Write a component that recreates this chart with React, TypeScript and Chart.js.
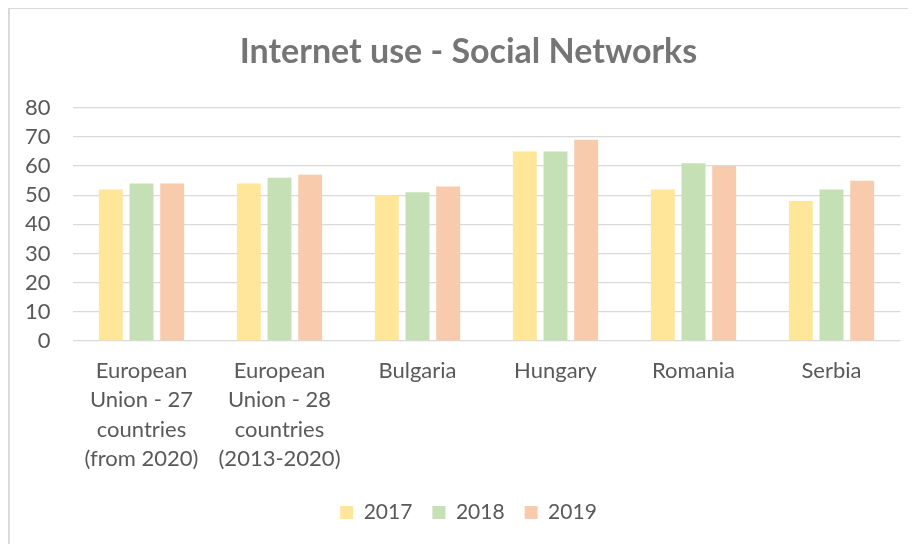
import React, { useEffect, useRef } from "react";
import { Chart, registerables } from "chart.js";

Chart.register(...registerables);

const categories: string[][] = [
  ["European", "Union - 27", "countries", "(from 2020)"],
  ["European", "Union - 28", "countries", "(2013-2020)"],
  ["Bulgaria"],
  ["Hungary"],
  ["Romania"],
  ["Serbia"],
];
const seriesNames = ["2017", "2018", "2019"];
const values2017 = [52, 54, 50, 65, 52, 48];
const values2018 = [54, 56, 51, 65, 61, 52];
const values2019 = [54, 57, 53, 69, 60, 55];
const seriesColors = ["#FFE699", "#C5E0B4", "#F8CBAD"];
const yTicks = [0, 10, 20, 30, 40, 50, 60, 70, 80];

const FONT = "Lato, 'Open Sans', sans-serif";
const TEXT = "#595959";

export default function App() {
  const ref = useRef<HTMLCanvasElement | null>(null);
  useEffect(() => {
    if (!ref.current) return;
    const data = [values2017, values2018, values2019];
    const chart = new Chart(ref.current, {
      type: "bar",
      data: {
        labels: categories,
        datasets: seriesNames.map((name, i) => ({
          label: name,
          data: data[i],
          backgroundColor: seriesColors[i],
          borderColor: "#ffffff",
          borderWidth: 0,
          categoryPercentage: 0.667,
          barPercentage: 0.78,
        })),
      },
      options: {
        animation: false,
        responsive: false,
        maintainAspectRatio: false,
        layout: { padding: { left: 0, right: 0, top: 0, bottom: 11 } },
        plugins: {
          title: {
            display: true,
            text: "Internet use - Social Networks",
            color: "#757575",
            font: { family: FONT, size: 34, weight: "bold", lineHeight: 1.2 },
            padding: { top: 22.6, bottom: 35.4 },
          },
          legend: {
            position: "bottom",
            labels: {
              color: TEXT,
              font: { family: FONT, size: 21 },
              boxWidth: 13,
              boxHeight: 13,
              padding: 20,
            },
          },
          tooltip: { enabled: false },
        },
        scales: {
          x: {
            afterFit: (scale: any) => {
              scale.height = 141;
            },
            grid: { display: false, drawTicks: false },
            border: { display: false },
            ticks: {
              color: TEXT,
              font: { family: FONT, size: 22, lineHeight: 1.34 },
              padding: 15,
              maxRotation: 0,
              autoSkip: false,
            },
          },
          y: {
            min: 0,
            max: 80,
            afterFit: (scale: any) => {
              scale.width = 62.5;
            },
            afterBuildTicks: (scale: any) => {
              scale.ticks = yTicks.map((v) => ({ value: v }));
            },
            grid: { color: "#d9d9d9", lineWidth: 1.3, drawTicks: false },
            border: { display: false },
            ticks: {
              color: TEXT,
              font: { family: FONT, size: 22 },
              padding: 22,
              autoSkip: false,
            },
          },
          spacer: {
            type: "linear",
            position: "right",
            display: true,
            afterFit: (scale: any) => {
              scale.width = 26.5;
            },
            grid: { display: false, drawTicks: false },
            border: { display: false },
            ticks: { display: false },
          },
        },
      },
    });
    return () => chart.destroy();
  }, []);

  return (
    <div
      style={{
        width: 908,
        height: 536,
        boxSizing: "border-box",
        borderLeft: "2px solid #d9d9d9",
        borderTop: "1px solid #d9d9d9",
        background: "#fff",
        overflow: "hidden",
      }}
    >
      <canvas ref={ref} width={917} height={535} style={{ display: "block" }} />
    </div>
  );
}
